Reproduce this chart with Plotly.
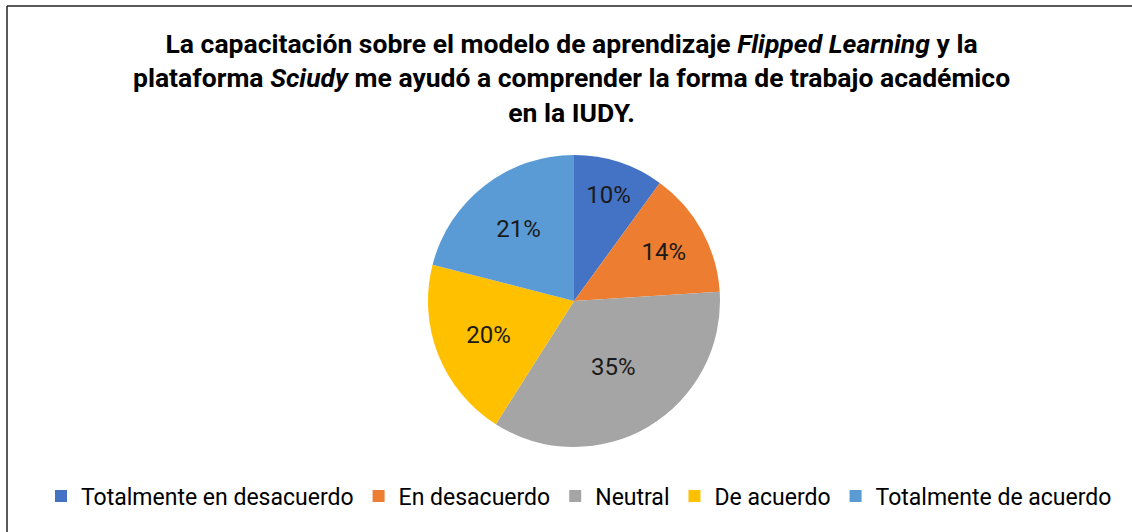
import plotly.graph_objects as go

categories = ["Totalmente en desacuerdo", "En desacuerdo", "Neutral", "De acuerdo", "Totalmente de acuerdo"]
values = [10, 14, 35, 20, 21]
colors = ["#4472C4", "#ED7D31", "#A5A5A5", "#FFC000", "#5B9BD5"]
title_lines = [
    "La capacitación sobre el modelo de aprendizaje <i>Flipped Learning</i> y la",
    "plataforma <i>Sciudy</i> me ayudó a comprender la forma de trabajo académico",
    "en la IUDY.",
]

W, H = 1132, 532

fig = go.Figure(go.Pie(
    labels=categories,
    values=values,
    sort=False,
    direction="clockwise",
    rotation=0,
    marker=dict(colors=colors, line=dict(width=0)),
    texttemplate="%{percent:.0%}",
    textposition="inside",
    insidetextorientation="horizontal",
    textfont=dict(family="Roboto", size=24, color="#1a1a1a"),
    domain=dict(x=[428 / W, 720 / W], y=[1 - 447 / H, 1 - 155 / H]),
    hoverinfo="label+percent",
))

fig.update_layout(
    width=W, height=H,
    margin=dict(l=0, r=0, t=0, b=0),
    paper_bgcolor="white",
    plot_bgcolor="white",
    font=dict(family="Roboto", color="#000000"),
    showlegend=True,
    legend=dict(
        orientation="h",
        x=579 / W, xanchor="center",
        y=1 - 496 / H, yanchor="middle",
        font=dict(family="Roboto", size=23, color="#000000"),
        itemwidth=30,
        traceorder="normal",
    ),
    annotations=[
        dict(
            text="<b>" + "<br>".join(title_lines) + "</b>",
            xref="paper", yref="paper",
            x=571 / W, xanchor="center",
            y=1 - 78 / H, yanchor="middle",
            showarrow=False, align="center",
            font=dict(family="Roboto", size=26.5, color="#000000"),
        )
    ],
    shapes=[
        dict(type="line", xref="paper", yref="paper",
             x0=7 / W, x1=1, y0=1 - 6 / H, y1=1 - 6 / H,
             line=dict(color="#222222", width=1.5)),
        dict(type="line", xref="paper", yref="paper",
             x0=7 / W, x1=7 / W, y0=1 - 6 / H, y1=0,
             line=dict(color="#222222", width=1.5)),
    ],
)

fig.write_html(
    "out.html",
    config={"displayModeBar": False},
    post_script="document.body.style.margin='0';document.body.style.overflow='hidden';",
)
